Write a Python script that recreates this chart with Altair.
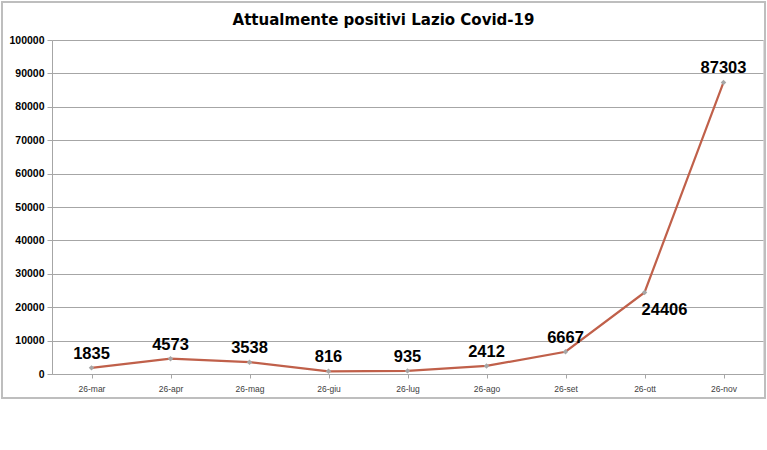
import altair as alt
import pandas as pd

dates = ["26-mar", "26-apr", "26-mag", "26-giu", "26-lug", "26-ago", "26-set", "26-ott", "26-nov"]
values = [1835, 4573, 3538, 816, 935, 2412, 6667, 24406, 87303]
y_ticks = [0, 10000, 20000, 30000, 40000, 50000, 60000, 70000, 80000, 90000, 100000]
title_text = "Attualmente positivi Lazio Covid-19"

df = pd.DataFrame({"data": dates, "valore": values})

W, H = 711, 334

x = alt.X("data:N", sort=dates, title=None,
          scale=alt.Scale(paddingInner=0, paddingOuter=0),
          axis=alt.Axis(labelAngle=0, labelFont="Liberation Sans", labelFontSize=8.5,
                        labelColor="#404040", labelPadding=6, tickSize=4,
                        tickColor="#A6A6A6", domainColor="#A6A6A6", bandPosition=0,
                        grid=False))
y = alt.Y("valore:Q", title=None,
          scale=alt.Scale(domain=[0, 100000], nice=False),
          axis=alt.Axis(values=y_ticks, labelFont="Liberation Sans", labelFontWeight="bold",
                        labelFontSize=10.5, labelColor="#000000", labelPadding=3,
                        tickSize=5, tickColor="#A6A6A6", domainColor="#A6A6A6",
                        gridColor="#A6A6A6", gridWidth=1, format="d"))

base = alt.Chart(df)

border = alt.Chart(df).mark_rect(fill=None, stroke="#BFBFBF", strokeWidth=1.5).encode(
    x=alt.value(-50), x2=alt.value(713), y=alt.value(-38), y2=alt.value(358)
)

title = alt.Chart(pd.DataFrame({"t": [title_text]})).mark_text(
    font="'DejaVu Sans Condensed', 'Liberation Sans'", fontWeight="bold", fontSize=16.7,
    color="#000000", align="center", baseline="middle"
).encode(x=alt.value(331.5), y=alt.value(-20), text="t:N")

line = base.mark_line(color="#C0604A", strokeWidth=2.2).encode(x=x, y=y)
pts = base.mark_point(shape="diamond", filled=True, color="#A6A6A6", size=30, opacity=1).encode(x=x, y=y)

labels = base.transform_filter(alt.datum.data != "26-ott").mark_text(
    font="Liberation Sans", fontWeight="bold", fontSize=16.5, color="#000000",
    baseline="middle", dy=-14
).encode(x=x, y=y, text="valore:Q")

label_ott = base.transform_filter(alt.datum.data == "26-ott").mark_text(
    font="Liberation Sans", fontWeight="bold", fontSize=16.5, color="#000000",
    baseline="middle", dx=20, dy=18
).encode(x=x, y=y, text="valore:Q")

chart = alt.layer(border, title, line, pts, labels, label_ott).properties(
    width=W, height=H,
    autosize=alt.AutoSizeParams(type="none"),
    padding={"left": 52, "top": 40, "right": 4, "bottom": 76},
).configure_view(stroke=None).configure(background="white")

chart.save("out.html", embed_options={"renderer": "svg", "actions": False})
